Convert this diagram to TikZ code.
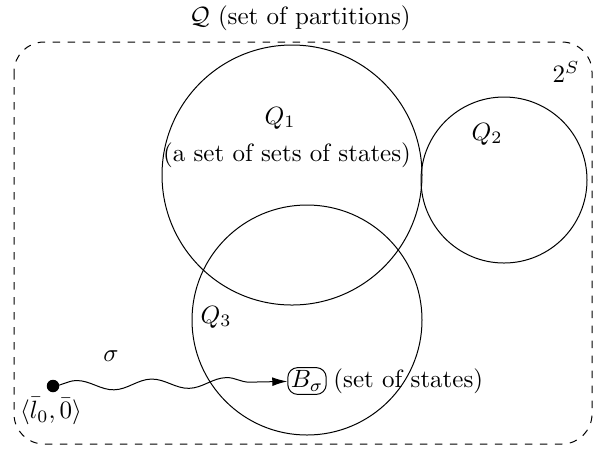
\documentclass[tikz,border=0pt]{standalone}
\usetikzlibrary{decorations.pathmorphing,arrows.meta}
\begin{document}
\begin{tikzpicture}[x=0.40pt,y=-0.40pt,
  setcircle/.style={circle,draw,inner sep=0pt},
  lbl/.style={inner sep=1pt}]
\useasboundingbox (0,0) rectangle (593,449);
\draw[dashed,rounded corners=12pt] (14,42) rectangle (592,444);
\node[lbl] (title) at (300,18) {$\mathcal{Q}$ (set of partitions)};
\node[lbl] (pow) at (566,72) {$2^S$};
\node[setcircle,minimum size=104pt] (q1) at (292,175) {};
\node[setcircle,minimum size=66.4pt] (q2) at (504,180) {};
\node[setcircle,minimum size=92pt] (q3) at (307,320) {};
\node[lbl] (q1l) at (280,118) {$Q_1$};
\node[lbl] (q1t) at (287,155) {(a set of sets of states)};
\node[lbl] (q2l) at (487,134) {$Q_2$};
\node[lbl] (q3l) at (216,317) {$Q_3$};
\coordinate (dot) at (53,386);
\fill (dot) circle (2.5pt);
\node[lbl] (init) at (51,411) {$\langle\bar{l}_0,\bar{0}\rangle$};
\node[draw,rounded corners=4pt,inner sep=1.2pt] (b) at (307,381) {$B_\sigma$};
\node[lbl,anchor=west,xshift=1.5pt] (bt) at (b.east) {(set of states)};
\node[lbl] (sig) at (111,356) {$\sigma$};
\draw[-{Latex[length=6pt,width=3.5pt]},decorate,decoration={snake,segment length=30pt,amplitude=2pt,pre length=0pt,post length=8pt}] (dot) -- (b);
\end{tikzpicture}
\end{document}
